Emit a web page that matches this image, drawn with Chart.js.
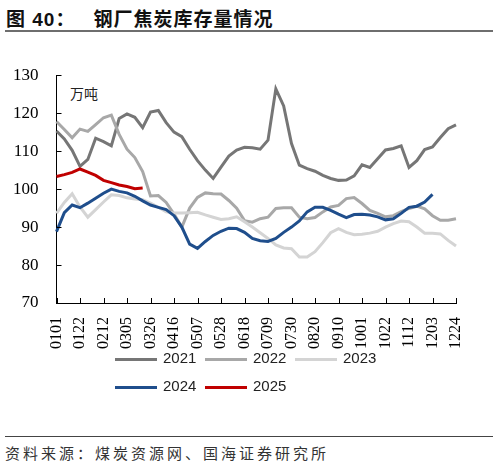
<!DOCTYPE html>
<html>
<head>
<meta charset="utf-8">
<script src="https://cdn.jsdelivr.net/npm/chart.js@4/dist/chart.umd.min.js"></script>
<style>
  body { margin:0; background:#fff; width:498px; height:465px; position:relative; overflow:hidden; }
  #title { position:absolute; left:6px; top:4px; font-family:"Liberation Sans","Noto Sans CJK SC",sans-serif; font-weight:bold; font-size:19px; color:#111; letter-spacing:1px; }
  #title .num { margin-right:18px; }
  #rule1 { position:absolute; left:5px; top:30px; width:488px; height:2px; background:#6e6e6e; }
  #unit { position:absolute; left:70px; top:83px; font-family:"Noto Sans CJK SC",serif; font-size:14px; color:#222; }
  #box { position:absolute; left:0; top:55px; width:498px; height:300px; }
  #legend { position:absolute; left:115px; top:349px; font-family:"Liberation Sans",sans-serif; font-size:15px; color:#222; }
  .row { height:28px; white-space:nowrap; }
  .item { display:inline-block; width:90px; }
  .sw { display:inline-block; width:42px; height:3px; vertical-align:middle; margin-right:6px; }
  #rule2 { position:absolute; left:5px; top:436px; width:488px; height:1px; background:#444; }
  #source { position:absolute; left:5px; top:442px; font-family:"Noto Sans CJK SC",sans-serif; font-size:15px; letter-spacing:3px; color:#333; }
</style>
</head>
<body>
<div id="title"><span class="num">图 40：</span>钢厂焦炭库存量情况</div>
<div id="rule1"></div>
<div id="unit">万吨</div>
<div id="box"><canvas id="grafico"></canvas></div>
<div id="legend"></div>
<div id="rule2"></div>
<div id="source">资料来源：煤炭资源网、国海证券研究所</div>
<script>
// semanas (MMDD)
var semanas = ['0101','0108','0115','0122','0129','0205','0212','0219','0226','0305','0312','0319','0326',
  '0402','0409','0416','0423','0430','0507','0514','0521','0528','0604','0611','0618','0625',
  '0702','0709','0716','0723','0730','0806','0813','0820','0827','0903','0910','0917','0924',
  '1001','1008','1015','1022','1029','1105','1112','1119','1126','1203','1210','1217','1224'];

var y2021 = [115.3,113.2,110.2,106,107.8,113.4,112.5,111.4,118.6,119.8,118.9,116.2,120.3,120.7,117.5,115,
  113.8,110.5,107.5,105,102.8,105.8,108.7,110.3,111,110.9,110.5,112.9,126.4,121.9,112,106.3,105.4,104.7,
  103.6,102.8,102.3,102.4,103.5,106.4,105.7,108,110.3,110.7,111.4,105.7,107.5,110.4,111.1,113.6,115.9,116.9];
var y2022 = [117.8,115.7,113.5,115.8,115.2,117,118.8,119.5,114.4,110.5,108.3,104.6,98.2,98.3,96.5,93.4,
  90,95,97.8,99,98.8,98.7,97,95,91.7,91.3,92.2,92.6,94.9,95.1,95.1,92.6,92.2,92.5,94,95.3,95.7,97.5,
  97.8,96.2,94.4,93.6,92.7,93,94.1,94.9,95.5,94.8,93,91.8,91.8,92.2];
var y2023 = [93.6,96.5,98.8,95.3,92.6,94.6,96.6,98.5,98.3,97.7,97.4,97.2,96.3,95.2,94,93.7,93.7,93.8,
  93.9,93.2,92.6,92,92.2,92.7,91.4,90,88.5,87,85.3,84.5,84.3,82.1,82.1,83.5,85.9,88.5,89.6,88.6,88,
  88.1,88.4,88.9,90,90.9,91.6,91.4,90,88.4,88.4,88.2,86.5,85];
var y2024 = [88.8,93.8,95.8,95.1,96.3,97.6,98.9,100,99.4,99,98.1,96.9,95.8,95.2,94.6,93,90,85.5,84.4,
  86.2,87.8,88.9,89.7,89.6,88.6,87,86.4,86.2,87,88.6,90,91.6,94,95.2,95.2,94.4,93.4,92.5,93.3,93.4,
  93.2,92.7,91.9,92.2,93.6,95.2,95.5,96.6,98.6];
var y2025 = [103.3,103.8,104.4,105.3,104.5,103.6,102.3,101.7,101.1,100.7,100.1,100.3];

var anos = ['2021','2022','2023','2024','2025'];
var cores = ['#767676','#a8a8a8','#d4d4d4','#1f4e8c','#c00000'];
var series = [y2021, y2022, y2023, y2024, y2025];

// marcas de eixo para dentro
const marcasInternas = {
  id: 'marcasInternas',
  afterDraw(chart) {
    const ctx = chart.ctx, a = chart.chartArea;
    const sx = chart.scales.x, sy = chart.scales.y;
    ctx.save();
    ctx.strokeStyle = '#000';
    ctx.lineWidth = 1;
    ctx.beginPath();
    for (let i = 0; i < semanas.length; i += 3) {
      const x = Math.round(sx.getPixelForValue(i)) + 0.5;
      ctx.moveTo(x, a.bottom); ctx.lineTo(x, a.bottom - 5);
    }
    sy.ticks.forEach(t => {
      const y = Math.round(sy.getPixelForValue(t.value)) + 0.5;
      ctx.moveTo(a.left, y); ctx.lineTo(a.left + 5, y);
    });
    ctx.stroke();
    ctx.restore();
  }
};

var datasets = anos.map(function (ano, k) {
  return {
    label: ano,
    data: series[k],
    borderColor: cores[k],
    backgroundColor: cores[k],
    borderWidth: 3,
    pointRadius: 0,
    tension: 0,
    fill: false,
    order: 5 - k
  };
});

var chart = new Chart(document.getElementById('grafico'), {
  type: 'line',
  data: { labels: semanas, datasets: datasets },
  options: {
    responsive: true,
    maintainAspectRatio: false,
    animation: false,
    layout: { padding: { left: 3, right: 42, top: 20, bottom: 0 } },
    plugins: {
      legend: { display: false },
      tooltip: { enabled: false }
    },
    scales: {
      x: {
        offset: false,
        grid: { display: false },
        border: { display: true, color: '#000', width: 1 },
        ticks: {
          autoSkip: false,
          minRotation: 90,
          maxRotation: 90,
          padding: 6,
          color: '#000',
          font: { family: 'Liberation Serif', size: 16 },
          callback: function (v, i) { return i % 3 === 0 ? semanas[i] : ''; }
        }
      },
      y: {
        min: 70,
        max: 130,
        grid: { display: false },
        border: { display: true, color: '#000', width: 1 },
        ticks: {
          stepSize: 10,
          padding: 10,
          color: '#000',
          font: { family: 'Liberation Serif', size: 17 }
        }
      }
    }
  },
  plugins: [marcasInternas]
});

// legenda em html, 3 + 2
var leg = document.getElementById('legend');
[[0,1,2],[3,4]].forEach(function (linha) {
  var row = document.createElement('div');
  row.className = 'row';
  linha.forEach(function (k) {
    var ds = chart.data.datasets[k];
    var it = document.createElement('span');
    it.className = 'item';
    it.innerHTML = '<span class="sw" style="background:' + ds.borderColor + '"></span>' + ds.label;
    row.appendChild(it);
  });
  leg.appendChild(row);
});
</script>
</body>
</html>
